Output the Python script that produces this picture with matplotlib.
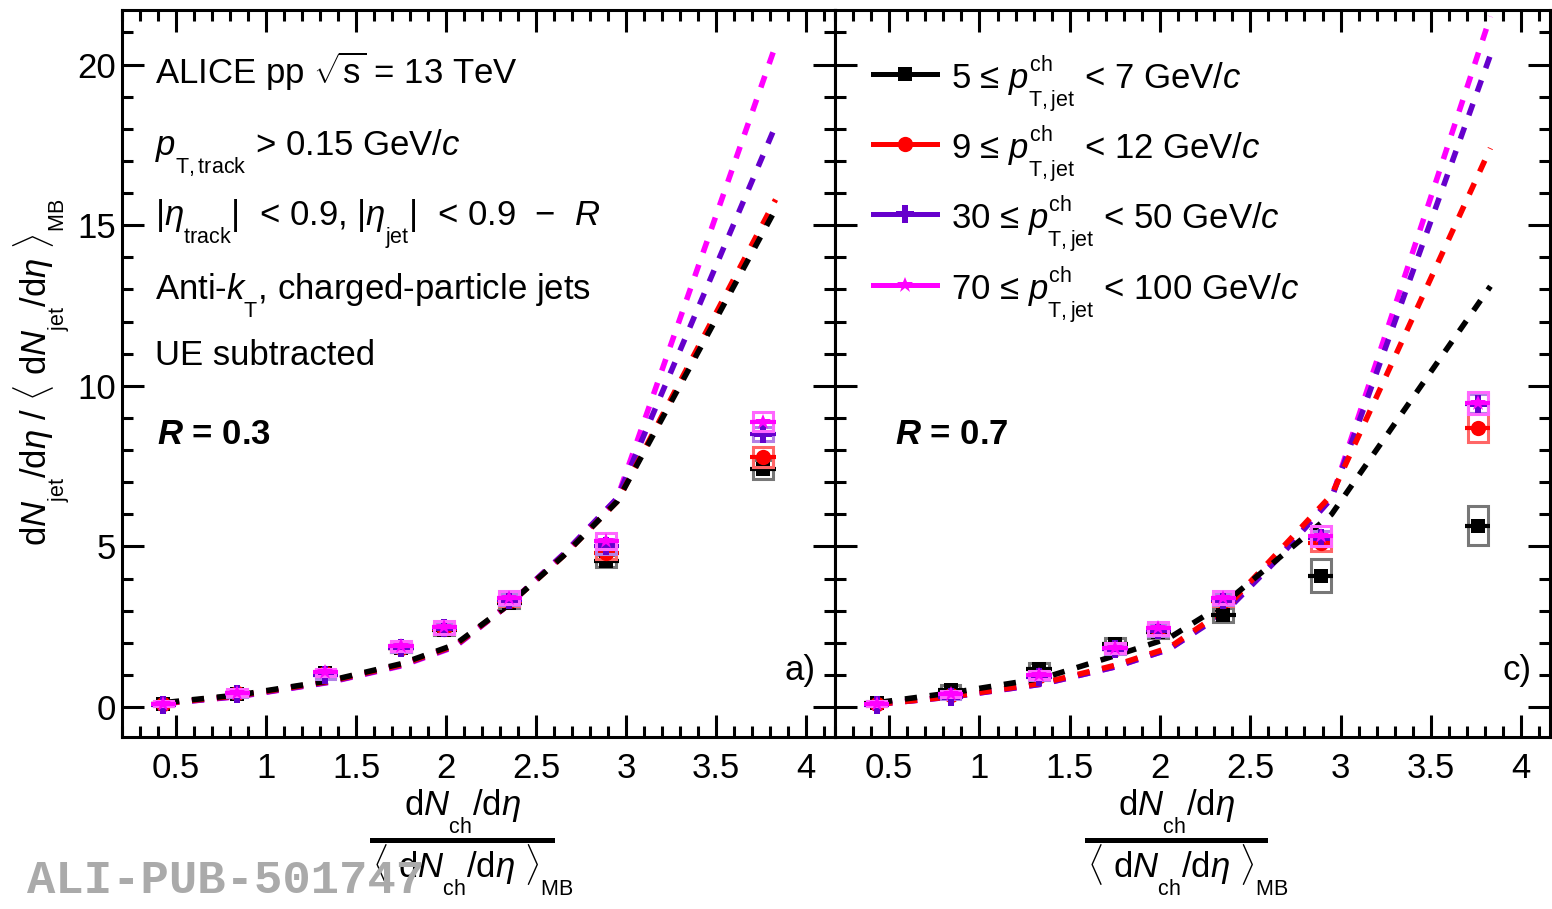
import matplotlib
matplotlib.use("Agg")
import matplotlib.pyplot as plt
import matplotlib._mathtext as mathtext_internals
from matplotlib.patches import Rectangle
from matplotlib.lines import Line2D
from matplotlib.ticker import MultipleLocator, FuncFormatter

plt.rcParams.update({
    "font.family": ["Liberation Sans", "DejaVu Sans"],
    "mathtext.fontset": "custom",
    "mathtext.rm": "Liberation Sans",
    "mathtext.it": "Liberation Sans:italic",
    "mathtext.bf": "Liberation Sans:bold",
    "mathtext.bfit": "Liberation Sans:bold:italic",
    "mathtext.sf": "Liberation Sans",
})

# ROOT-like sub/superscripts: smaller and placed further from the baseline
mathtext_internals.SHRINK_FACTOR = 0.62
mathtext_internals.FontConstantsBase.sub1 = 0.95
mathtext_internals.FontConstantsBase.sub2 = 0.95
mathtext_internals.FontConstantsBase.sup1 = 0.9

# ---------------- data ----------------
mult_bins = [0.43, 0.84, 1.33, 1.75, 1.99, 2.35, 2.89, 3.76]
series_labels = ["5 ≤ $p_{\\mathrm{T,jet}}^{\\mathrm{ch}}$ < 7 GeV/$c$",
                 "9 ≤ $p_{\\mathrm{T,jet}}^{\\mathrm{ch}}$ < 12 GeV/$c$",
                 "30 ≤ $p_{\\mathrm{T,jet}}^{\\mathrm{ch}}$ < 50 GeV/$c$",
                 "70 ≤ $p_{\\mathrm{T,jet}}^{\\mathrm{ch}}$ < 100 GeV/$c$"]

# R = 0.3
r03_pt5_7 = [0.10, 0.42, 1.05, 1.85, 2.40, 3.25, 4.55, 7.40]
r03_pt9_12 = [0.10, 0.43, 1.05, 1.85, 2.42, 3.30, 4.80, 7.80]
r03_pt30_50 = [0.08, 0.40, 1.00, 1.85, 2.45, 3.35, 5.00, 8.50]
r03_pt70_100 = [0.10, 0.45, 1.08, 1.90, 2.48, 3.40, 5.17, 8.88]
r03_sys_pt5_7 = [0.08, 0.08, 0.12, 0.12, 0.15, 0.15, 0.20, 0.30]
r03_sys_pt9_12 = [0.06, 0.07, 0.10, 0.12, 0.15, 0.15, 0.20, 0.31]
r03_sys_pt30_50 = [0.06, 0.08, 0.12, 0.14, 0.18, 0.18, 0.22, 0.23]
r03_sys_pt70_100 = [0.08, 0.10, 0.12, 0.15, 0.20, 0.20, 0.25, 0.30]

# R = 0.7
r07_pt5_7 = [0.12, 0.53, 1.18, 1.98, 2.35, 2.87, 4.09, 5.65]
r07_pt9_12 = [0.10, 0.38, 0.98, 1.82, 2.40, 3.30, 5.10, 8.70]
r07_pt30_50 = [0.08, 0.33, 0.95, 1.80, 2.40, 3.35, 5.25, 9.45]
r07_pt70_100 = [0.10, 0.40, 1.00, 1.85, 2.45, 3.40, 5.33, 9.47]
r07_sys_pt5_7 = [0.08, 0.15, 0.18, 0.18, 0.20, 0.21, 0.51, 0.61]
r07_sys_pt9_12 = [0.06, 0.08, 0.10, 0.12, 0.15, 0.15, 0.25, 0.44]
r07_sys_pt30_50 = [0.06, 0.08, 0.12, 0.14, 0.18, 0.18, 0.22, 0.30]
r07_sys_pt70_100 = [0.08, 0.10, 0.12, 0.15, 0.20, 0.20, 0.30, 0.34]

# MC predictions (dashed)
model_x = [0.45, 0.85, 1.35, 1.75, 2.05, 2.35, 2.65, 2.95, 3.83]
r03_mc_pt5_7 = [0.15, 0.38, 0.82, 1.35, 1.95, 3.20, 4.70, 6.40, 15.5]
r03_mc_pt9_12 = [0.13, 0.36, 0.80, 1.32, 1.92, 3.20, 4.70, 6.40, 15.8]
r03_mc_pt30_50 = [0.12, 0.34, 0.78, 1.30, 1.90, 3.20, 4.75, 6.50, 18.1]
r03_mc_pt70_100 = [0.12, 0.33, 0.77, 1.28, 1.88, 3.20, 4.75, 6.50, 20.6]

r07_mc_pt5_7 = [0.15, 0.45, 0.90, 1.60, 2.15, 3.20, 4.60, 6.00, 13.1]
r07_mc_pt9_12 = [0.10, 0.33, 0.75, 1.30, 1.85, 3.00, 4.80, 6.60, 17.4]
r07_mc_pt30_50 = [0.10, 0.32, 0.72, 1.25, 1.80, 2.90, 4.60, 6.50, 20.3]
r07_mc_pt70_100 = [0.10, 0.32, 0.72, 1.25, 1.80, 2.95, 4.65, 6.50, 21.5]

colors = ["#000000", "#ff0000", "#6600cc", "#ff00ff"]
box_colors = ["#777777", "#ff6666", "#b380e6", "#ff66ff"]
markers = ["s", "o", "P", "*"]
marker_sizes = [10, 11, 12.5, 12]

# ---------------- figure ----------------
W, H, DPI = 1552, 909, 100
fig = plt.figure(figsize=(W / DPI, H / DPI), dpi=DPI)


def px_rect(x0, y0, x1, y1):
    return [x0 / W, 1 - y1 / H, (x1 - x0) / W, (y1 - y0) / H]


def fx(px):
    return px / W


def fy(py):
    return 1 - py / H


ax_l = fig.add_axes(px_rect(122, 10, 835, 737))
ax_r = fig.add_axes(px_rect(835, 10, 1550, 737))


def draw_panel(ax, data, sys, curves):
    for i in [3, 2, 1, 0]:
        ax.plot(model_x, curves[i], color=colors[i], lw=4.0,
                ls=(0, (2.2, 2.3)), zorder=2 + (3 - i) * 0.1)
    for i in range(4):
        for xi, yi, si in zip(mult_bins, data[i], sys[i]):
            ax.add_patch(Rectangle((xi - 0.055, yi - si), 0.11, 2 * si,
                                   fill=False, ec=box_colors[i], lw=2.2,
                                   zorder=4 + 2 * i))
        ax.errorbar(mult_bins, data[i], xerr=0.07, fmt=markers[i],
                    color=colors[i], ms=marker_sizes[i], mew=0,
                    elinewidth=3, capsize=0, zorder=5 + 2 * i)


draw_panel(ax_l,
           [r03_pt5_7, r03_pt9_12, r03_pt30_50, r03_pt70_100],
           [r03_sys_pt5_7, r03_sys_pt9_12, r03_sys_pt30_50, r03_sys_pt70_100],
           [r03_mc_pt5_7, r03_mc_pt9_12, r03_mc_pt30_50, r03_mc_pt70_100])
draw_panel(ax_r,
           [r07_pt5_7, r07_pt9_12, r07_pt30_50, r07_pt70_100],
           [r07_sys_pt5_7, r07_sys_pt9_12, r07_sys_pt30_50, r07_sys_pt70_100],
           [r07_mc_pt5_7, r07_mc_pt9_12, r07_mc_pt30_50, r07_mc_pt70_100])

fmt = FuncFormatter(lambda v, p: "%g" % v)
for ax in (ax_l, ax_r):
    ax.set_xlim(0.2, 4.16)
    ax.set_ylim(-0.93, 21.7)
    ax.xaxis.set_major_locator(MultipleLocator(0.5))
    ax.xaxis.set_minor_locator(MultipleLocator(0.1))
    ax.yaxis.set_major_locator(MultipleLocator(5))
    ax.yaxis.set_minor_locator(MultipleLocator(1))
    ax.xaxis.set_major_formatter(fmt)
    ax.yaxis.set_major_formatter(fmt)
    ax.tick_params(which="both", direction="in", top=True, right=True,
                   width=2.2, labelsize=25)
    ax.tick_params(which="major", length=16)
    ax.tick_params(which="minor", length=8)
    ax.tick_params(axis="x", pad=11)
    ax.tick_params(axis="y", pad=4)
    for s in ax.spines.values():
        s.set_linewidth(2.2)
ax_r.tick_params(labelleft=False)

# ---------------- annotations ----------------
FS = 25
fig.text(fx(155), fy(84), r"ALICE pp $\sqrt{\mathrm{s}}$ = 13 TeV", fontsize=FS, va="baseline")
fig.text(fx(155), fy(155), r"$p_{\mathrm{T,track}}$ > 0.15 GeV/$c$", fontsize=FS, va="baseline")
fig.text(fx(155), fy(226),
         r"|$\eta_{\mathrm{track}}$|  < 0.9, |$\eta_{\mathrm{jet}}$|  < 0.9  −  $R$",
         fontsize=FS, va="baseline")
fig.text(fx(155), fy(300), r"Anti-$k_{\mathrm{T}}$, charged-particle jets", fontsize=FS,
         va="baseline")
fig.text(fx(155), fy(365), "UE subtracted", fontsize=FS, va="baseline")
fig.text(fx(157), fy(444), r"$\mathbfit{R}$ = 0.3", fontsize=FS, fontweight="bold", va="baseline")
fig.text(fx(895), fy(444), r"$\mathbfit{R}$ = 0.7", fontsize=FS, fontweight="bold", va="baseline")
fig.text(fx(784), fy(680), "a)", fontsize=FS, va="baseline")
fig.text(fx(1502), fy(680), "c)", fontsize=FS, va="baseline")

# legend
legend_y = [74, 144, 214, 285]
for i, yy in enumerate(legend_y):
    fig.add_artist(Line2D([fx(873), fx(937)], [fy(yy), fy(yy)], color=colors[i], lw=3.6,
                          transform=fig.transFigure))
    fig.add_artist(Line2D([fx(905)], [fy(yy)], color=colors[i], marker=markers[i],
                          ms=marker_sizes[i], mew=0, transform=fig.transFigure))
    fig.text(fx(951), fy(yy + 15), series_labels[i], fontsize=FS, va="baseline")

# y-axis title
fig.text(fx(42), fy(372),
         r"d$N_{\mathrm{jet}}$/d$\eta$ / $\langle$ d$N_{\mathrm{jet}}$/d$\eta$ $\rangle_{\mathrm{MB}}$",
         fontsize=FS, rotation=90, ha="center", va="center")

# x-axis titles (fraction)
for xc, x0, x1 in [(462, 372, 552), (1176, 1087, 1265)]:
    fig.text(fx(xc), fy(816), r"d$N_{\mathrm{ch}}$/d$\eta$", fontsize=FS, ha="center",
             va="baseline")
    fig.add_artist(Line2D([fx(x0), fx(x1)], [fy(840), fy(840)], color="black", lw=3.6,
                          transform=fig.transFigure))
    fig.text(fx(x0), fy(878), r"$\langle$ d$N_{\mathrm{ch}}$/d$\eta$ $\rangle_{\mathrm{MB}}$",
             fontsize=FS, ha="left", va="baseline")

fig.text(fx(27), fy(893), "ALI-PUB-501747", family="Liberation Mono", fontweight="bold",
         fontsize=34, color="#aaaaaa", va="baseline", zorder=10)

fig.savefig("out.png", dpi=DPI)
